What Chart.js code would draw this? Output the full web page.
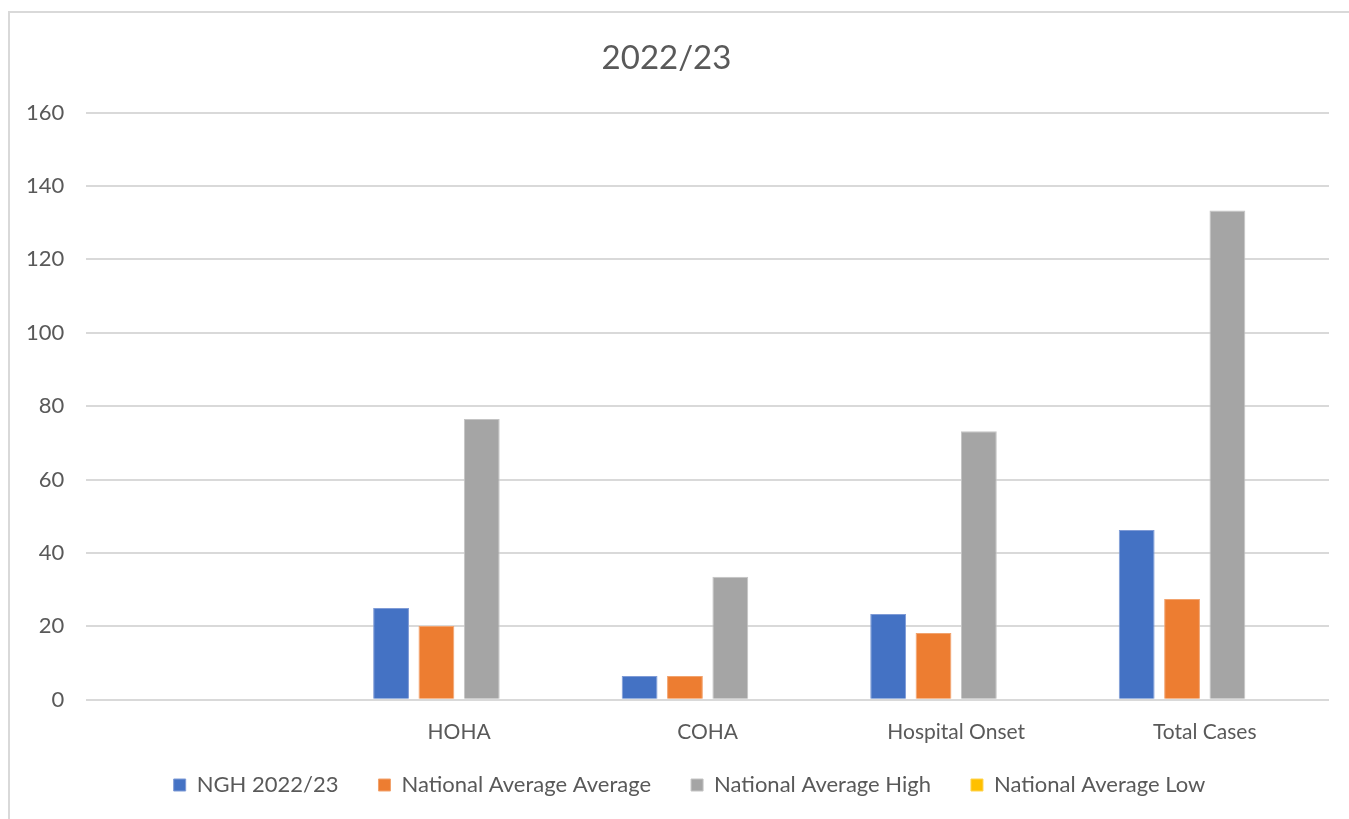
<!DOCTYPE html>
<html>
<head>
<meta charset="utf-8">
<script src="https://cdn.jsdelivr.net/npm/chart.js@4/dist/chart.umd.min.js"></script>
<style>
  html, body { margin: 0; padding: 0; background: #fff; }
  body { width: 1349px; height: 819px; position: relative; overflow: hidden; }
  #frame {
    position: absolute; left: 8px; top: 11px; width: 1400px; height: 900px;
    border-left: 2px solid #d9d9d9; border-top: 2px solid #d9d9d9;
  }
  #wrap { position: absolute; left: 0; top: 0; width: 1349px; height: 819px; }
</style>
</head>
<body>
<div id="frame"></div>
<div id="wrap"><canvas id="chart"></canvas></div>
<script>
// Categories (the first one is left blank in the source workbook)
const categories = ['', 'HOHA', 'COHA', 'Hospital Onset', 'Total Cases'];

// Series values
const nghValues = [null, 25, 6.5, 23.4, 46.3];
const natAvgValues = [null, 20.1, 6.5, 18.2, 27.5];
const natHighValues = [null, 76.5, 33.5, 73.2, 133.3];
const natLowValues = [null, null, null, null, null];

// Value axis ticks
const yTicks = [0, 20, 40, 60, 80, 100, 120, 140, 160];

const textColor = '#595959';
const fontFamily = 'Lato, "Open Sans", sans-serif';

const barBase = { barPercentage: 0.79, categoryPercentage: 0.73, borderWidth: 1 };

// Nudge the legend: tighter to the category labels, slightly right of centre
const legendNudge = {
  id: 'legendNudge',
  afterLayout(chart) {
    const lg = chart.legend;
    if (!lg) return;
    lg.top -= 23; lg.bottom -= 23;
    lg.left += 23; lg.right += 23;
  }
};

new Chart(document.getElementById('chart'), {
  type: 'bar',
  data: {
    labels: categories,
    datasets: [
      Object.assign({ label: 'NGH 2022/23', data: nghValues, backgroundColor: '#4472C4', borderColor: '#7f9bd6' }, barBase),
      Object.assign({ label: 'National Average Average', data: natAvgValues, backgroundColor: '#ED7D31', borderColor: '#f2a36e' }, barBase),
      Object.assign({ label: 'National Average High', data: natHighValues, backgroundColor: '#A5A5A5', borderColor: '#c4c4c4' }, barBase),
      Object.assign({ label: 'National Average Low', data: natLowValues, backgroundColor: '#FFC000', borderColor: '#ffd451' }, barBase)
    ]
  },
  plugins: [legendNudge],
  options: {
    responsive: true,
    maintainAspectRatio: false,
    animation: false,
    layout: { padding: { left: 4, right: 20, top: 39, bottom: -10 } },
    plugins: {
      title: {
        display: true,
        text: '2022/23',
        color: textColor,
        font: { family: fontFamily, size: 33, weight: 'normal' },
        padding: { top: 0, bottom: 34 }
      },
      legend: {
        position: 'bottom',
        labels: {
          color: textColor,
          font: { family: fontFamily, size: 22 },
          boxWidth: 12,
          boxHeight: 12,
          padding: 40
        }
      },
      tooltip: { enabled: false }
    },
    scales: {
      x: {
        grid: { display: false },
        border: { display: false },
        ticks: {
          color: textColor,
          font: { family: fontFamily, size: 21 },
          padding: 12
        }
      },
      y: {
        min: 0,
        max: 160,
        afterBuildTicks: (axis) => { axis.ticks = yTicks.map(v => ({ value: v })); },
        grid: { color: '#d9d9d9', lineWidth: 2, drawTicks: false },
        border: { display: false },
        ticks: {
          color: textColor,
          font: { family: fontFamily, size: 22 },
          padding: 22
        }
      }
    }
  }
});
</script>
</body>
</html>
